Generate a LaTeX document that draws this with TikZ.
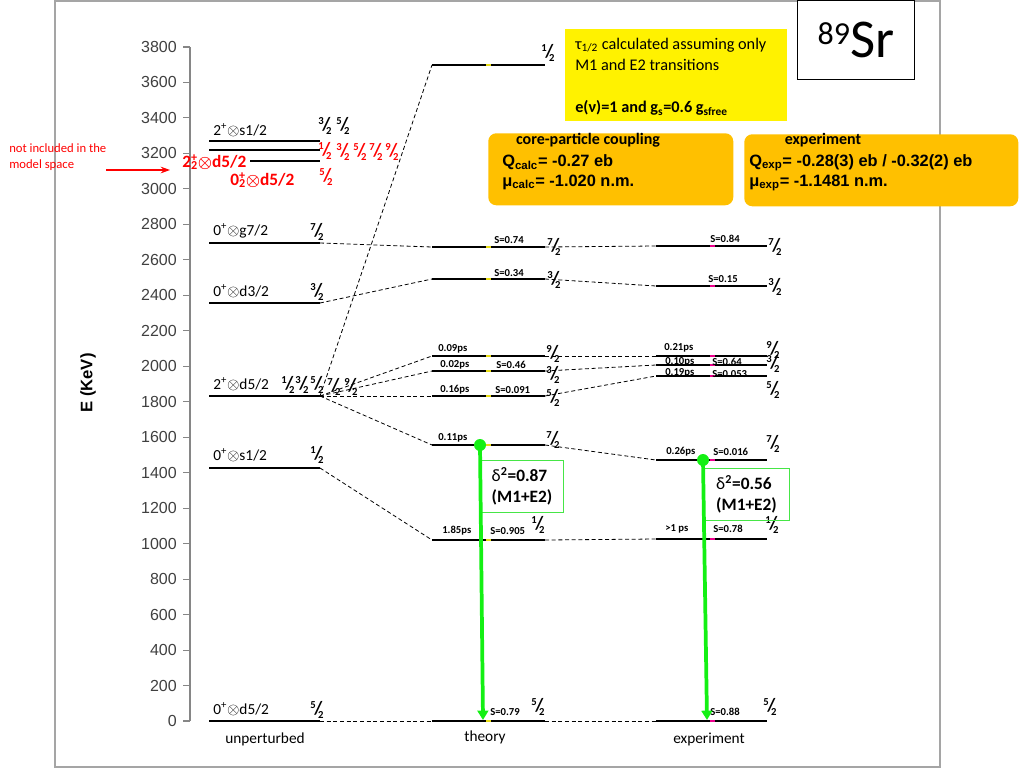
\documentclass[tikz,border=0pt]{standalone}
\usepackage{fontspec}
\setmainfont{Carlito}
\newfontfamily\arialfont{Liberation Sans}
\usetikzlibrary{arrows.meta}

\definecolor{coreorange}{RGB}{255,192,0}
\definecolor{notegreen}{RGB}{70,230,70}
\definecolor{arrowgreen}{RGB}{20,240,20}
\definecolor{framegray}{RGB}{165,165,165}
\definecolor{axisgray}{RGB}{134,134,134}
\definecolor{ticktext}{RGB}{64,64,64}

\newcommand{\jfrac}[2]{{\bfseries\raisebox{4.5pt}{\fontsize{8}{8}\selectfont#1}\kern-1pt{\fontsize{14}{14}\selectfont/}\kern-3.2pt\raisebox{-3pt}{\fontsize{8}{8}\selectfont#2}}}
\newcommand{\coupl}[2]{#1\textsuperscript{+}$\otimes$#2}

\begin{document}
\begin{tikzpicture}[x=0.75pt,y=-0.75pt]

    \tikzset{
      lvl/.style={line width=1.6pt, black},
      conn/.style={line width=0.6pt, dash pattern=on 3pt off 2pt},
      spin/.style={inner sep=0pt, font=\fontsize{11}{11}\selectfont},
      redspin/.style={spin, red},
      tlab/.style={inner sep=0pt, anchor=west, font=\bfseries\fontsize{8}{9}\selectfont},
      state/.style={inner sep=0pt, anchor=west, font=\fontsize{11.5}{13}\selectfont},
      notetext/.style={inner sep=0pt, anchor=west, font=\fontsize{12.2}{14}\selectfont},
      redstate/.style={inner sep=0pt, anchor=west, red, font=\bfseries\boldmath\fontsize{13}{15}\selectfont},
      axis/.style={axisgray, line width=0.8pt},
      ticklbl/.style={inner sep=0pt, anchor=east, ticktext, font=\arialfont\fontsize{12}{12}\selectfont},
      tmark/.style={yellow!90!black, line width=1.2pt},
      xmark/.style={magenta, line width=1.2pt},
      gdot/.style={circle, fill=arrowgreen, inner sep=0pt, minimum size=9pt},
      garrow/.style={arrowgreen, line width=2.8pt, -{Triangle[width=8pt,length=7pt]}},
      gbox/.style={draw=notegreen, line width=0.8pt, anchor=north west, align=left, font=\bfseries\fontsize{13}{16}\selectfont},
      obox/.style={fill=coreorange, rounded corners=6pt, anchor=north west, inner sep=0pt},
      otext/.style={inner sep=0pt, anchor=west, font=\arialfont\bfseries\fontsize{12.3}{14}\selectfont},
      colname/.style={inner sep=0pt, font=\fontsize{11.5}{13}\selectfont},
    }
    \useasboundingbox (0,0) rectangle (1024,768);
    \draw[framegray, line width=1.5pt] (55,1) rectangle (940,767);

    % energy axis
    \draw[axis] (190,47) -- (190,721);
    \foreach \k in {0,...,19}{
      \pgfmathsetmacro\yy{721-35.474*\k}
      \pgfmathtruncatemacro\ee{200*\k}
      \draw[axis] (183,\yy) -- (190,\yy);
      \node[ticklbl] (tick\k) at (177,\yy) {\ee};
    }
    \node[rotate=90, font=\arialfont\bfseries\fontsize{12.5}{14}\selectfont] (eaxis) at (88,383) {E (KeV)};

    % unperturbed
    \draw[lvl] (209,721) coordinate (ual) -- (320,721) coordinate (uar);
    \draw[lvl] (209,468) coordinate (ubl) -- (320,468) coordinate (ubr);
    \draw[lvl] (209,396) coordinate (ucl) -- (320,396) coordinate (ucr);
    \draw[lvl] (209,303) coordinate (udl) -- (320,303) coordinate (udr);
    \draw[lvl] (209,243) coordinate (uel) -- (320,243) coordinate (uer);
    \draw[lvl] (209,141) coordinate (ufl) -- (320,141) coordinate (ufr);
    \draw[lvl] (209,150) coordinate (ugl) -- (320,150) coordinate (ugr);
    \draw[lvl] (250,161) coordinate (uhl) -- (320,161) coordinate (uhr);

    % theory
    \draw[lvl] (432,721) coordinate (tal) -- (545,721) coordinate (tar);
    \draw[lvl] (432,540) coordinate (tbl) -- (545,540) coordinate (tbr);
    \draw[lvl] (432,445) coordinate (tcl) -- (545,445) coordinate (tcr);
    \draw[lvl] (432,396) coordinate (tdl) -- (545,396) coordinate (tdr);
    \draw[lvl] (432,371) coordinate (tel) -- (545,371) coordinate (ter);
    \draw[lvl] (432,356) coordinate (tfl) -- (545,356) coordinate (tfr);
    \draw[lvl] (432,279) coordinate (tgl) -- (545,279) coordinate (tgr);
    \draw[lvl] (432,247) coordinate (thl) -- (545,247) coordinate (thr);
    \draw[lvl] (432,65) coordinate (til) -- (545,65) coordinate (tir);

    % experiment
    \draw[lvl] (656,721) coordinate (xal) -- (767,721) coordinate (xar);
    \draw[lvl] (656,539) coordinate (xbl) -- (767,539) coordinate (xbr);
    \draw[lvl] (656,460) coordinate (xcl) -- (767,460) coordinate (xcr);
    \draw[lvl] (656,376) coordinate (xdl) -- (767,376) coordinate (xdr);
    \draw[lvl] (656,365) coordinate (xel) -- (767,365) coordinate (xer);
    \draw[lvl] (656,356) coordinate (xfl) -- (767,356) coordinate (xfr);
    \draw[lvl] (656,286) coordinate (xgl) -- (767,286) coordinate (xgr);
    \draw[lvl] (656,246) coordinate (xhl) -- (767,246) coordinate (xhr);

    \foreach \yy in {65,247,279,356,371,396,445,540,721} \draw[tmark] (486,\yy) -- (491,\yy);
    \foreach \yy in {246,286,356,365,376,460,539,721} \draw[xmark] (710,\yy) -- (715,\yy);

    % dashed links
    \draw[conn] (uar) -- (tal);
    \draw[conn] (ubr) -- (tbl);
    \draw[conn] (ucr) -- (tcl);
    \draw[conn] (ucr) -- (tdl);
    \draw[conn] (ucr) -- (tel);
    \draw[conn] (ucr) -- (tfl);
    \draw[conn] (ucr) -- (til);
    \draw[conn] (udr) -- (tgl);
    \draw[conn] (uer) -- (thl);
    \draw[conn] (tar) -- (xal);
    \draw[conn] (tbr) -- (xbl);
    \draw[conn] (tcr) -- (xcl);
    \draw[conn] (tdr) -- (xdl);
    \draw[conn] (ter) -- (xel);
    \draw[conn] (tfr) -- (xfl);
    \draw[conn] (tgr) -- (xgl);
    \draw[conn] (thr) -- (xhl);

    % configurations
    \node[state] (sa) at (213,709) {\coupl{0}{d5/2}};
    \node[state] (sb) at (213,455) {\coupl{0}{s1/2}};
    \node[state] (sc) at (213,384) {\coupl{2}{d5/2}};
    \node[state] (sd) at (213,291) {\coupl{0}{d3/2}};
    \node[state] (se) at (213,231) {\coupl{0}{g7/2}};
    \node[state] (sf) at (213,130) {\coupl{2}{s1/2}};
    \node[redstate] (r2lbl) at (182,162) {2\rlap{\textsubscript{2}}\textsuperscript{+}$\otimes$d5/2};
    \node[redstate] (r0lbl) at (230,180) {0\rlap{\textsubscript{2}}\textsuperscript{+}$\otimes$d5/2};
    \node[inner sep=0pt, anchor=north west, align=left, red, font=\fontsize{9.5}{12}\selectfont] (notincl) at (9,143) {not included in the\\model space};
    \coordinate (arrstart) at (106,170);
    \draw[red, line width=0.8pt, -{Stealth[length=7pt,width=5pt]}, shorten >=9pt] (arrstart) -- (arrstart -| r2lbl.west);

    % spins
    \node[spin] (jua) at (317,710) {\jfrac52};
    \node[spin] (jub) at (317,455) {\jfrac12};
    \node[spin] (juc1) at (288,385) {\jfrac12};
    \node[spin] (juc3) at (302,385) {\jfrac32};
    \node[spin] (juc5) at (317,385) {\jfrac52};
    \node[spin] (juc7) at (334,387) {\jfrac72};
    \node[spin] (juc9) at (351,387) {\jfrac92};
    \node[spin] (jud) at (317,292) {\jfrac32};
    \node[spin] (jue) at (317,232) {\jfrac72};
    \node[spin] (juf3) at (325,126) {\jfrac32};
    \node[spin] (juf5) at (343,126) {\jfrac52};
    \node[redspin] (jug1) at (325,151) {\jfrac12};
    \node[redspin] (jug3) at (343,152) {\jfrac32};
    \node[redspin] (jug5) at (360,152) {\jfrac52};
    \node[redspin] (jug7) at (376,152) {\jfrac72};
    \node[redspin] (jug9) at (392,152) {\jfrac92};
    \node[redspin] (juh) at (326,177) {\jfrac52};

    \node[spin] (jti) at (548,53) {\jfrac12};
    \node[spin] (jth) at (554,247) {\jfrac72};
    \node[spin] (jtg) at (554,280) {\jfrac32};
    \node[spin] (jtf) at (553,354) {\jfrac92};
    \node[spin] (jte) at (553,375) {\jfrac32};
    \node[spin] (jtd) at (553,398) {\jfrac52};
    \node[spin] (jtc) at (553,440) {\jfrac72};
    \node[spin] (jtb) at (538,525) {\jfrac12};
    \node[spin] (jta) at (538,707) {\jfrac52};

    \node[spin] (jxh) at (775,247) {\jfrac72};
    \node[spin] (jxg) at (775,287) {\jfrac32};
    \node[spin] (jxf) at (773,350) {\jfrac92};
    \node[spin] (jxe) at (773,364) {\jfrac32};
    \node[spin] (jxd) at (773,390) {\jfrac52};
    \node[spin] (jxc) at (773,444) {\jfrac72};
    \node[spin] (jxb) at (772,525) {\jfrac12};
    \node[spin] (jxa) at (770,707) {\jfrac52};

    % lifetimes and S
    \node[tlab] (ptb) at (442,531) {1.85ps};
    \node[tlab] (ptc) at (438,438) {0.11ps};
    \node[tlab] (ptd) at (440,390) {0.16ps};
    \node[tlab] (pte) at (440,365) {0.02ps};
    \node[tlab] (ptf) at (438,349) {0.09ps};
    \node[tlab] (sta) at (490,712) {S=0.79};
    \node[tlab] (stb) at (490,531) {S=0.905};
    \node[tlab] (std) at (495,390) {S=0.091};
    \node[tlab] (ste) at (496,365) {S=0.46};
    \node[tlab] (stg) at (494,273) {S=0.34};
    \node[tlab] (sth) at (494,240) {S=0.74};
    \node[tlab] (pxb) at (665,529) {>1 ps};
    \node[tlab] (pxc) at (666,452) {0.26ps};
    \node[tlab] (pxd) at (665,373) {0.19ps};
    \node[tlab] (pxe) at (665,362) {0.10ps};
    \node[tlab] (pxf) at (664,348) {0.21ps};
    \node[tlab] (sxa) at (710,712) {S=0.88};
    \node[tlab] (sxb) at (713,529) {S=0.78};
    \node[tlab] (sxc) at (713,452) {S=0.016};
    \node[tlab] (sxd) at (712,374) {S=0.053};
    \node[tlab] (sxe) at (712,362) {S=0.64};
    \node[tlab] (sxg) at (708,279) {S=0.15};
    \node[tlab] (sxh) at (710,239) {S=0.84};

    \node[colname] (ucol) at (265,739) {unperturbed};
    \node[colname] (tcol) at (485,737) {theory};
    \node[colname] (xcol) at (709,739) {experiment};

    % E2/M1 transitions
    \node[gbox, minimum width=62.25pt, minimum height=39pt] (tdelta) at (480,460) {{\mdseries δ}\textsuperscript{2}=0.87\\(M1+E2)};
    \node[gbox, minimum width=64.5pt, minimum height=39pt] (xdelta) at (703,468) {{\mdseries δ}\textsuperscript{2}=0.56\\(M1+E2)};
    \node[gdot] (tdot) at (480,445) {};
    \coordinate (tend) at (483,720);
    \draw[garrow] (tdot.center) -- (tend);
    \node[gdot] (xdot) at (703,460) {};
    \coordinate (xend) at (707,720);
    \draw[garrow] (xdot.center) -- (xend);

    % boxes
    \node[fill=yellow, minimum width=166.5pt, minimum height=69pt, anchor=north west, inner sep=0pt] (notebox) at (565,29) {};
    \node[notetext] (note1) at (575,45) {τ\textsubscript{1/2} calculated assuming only};
    \node[notetext] (note2) at (575,65) {M1 and E2 transitions};
    \node[notetext, font=\bfseries\fontsize{12.2}{14}\selectfont] (note3) at (575,108) {e(ν)=1 and g\textsubscript{s}=0.6 g\textsubscript{sfree}};

    \node[draw, fill=white, line width=0.8pt, minimum width=87.75pt, minimum height=59.25pt, anchor=north west, inner sep=0pt] (srbox) at (797,0) {\fontsize{41}{41}\selectfont\raisebox{10pt}{\fontsize{24}{24}\selectfont 89}Sr};

    \node[obox, minimum width=183.75pt, minimum height=54pt] (calcbox) at (488,133) {};
    \node[inner sep=0pt, font=\bfseries\fontsize{12}{14}\selectfont] (calchead) at (588,140) {core-particle coupling};
    \node[otext] (qcalc) at (502,162) {Q\textsubscript{calc}= -0.27 eb};
    \node[otext] (mucalc) at (502,182) {μ\textsubscript{calc}= -1.020 n.m.};
    \node[obox, minimum width=205.5pt, minimum height=54pt] (expbox) at (744,134) {};
    \node[inner sep=0pt, font=\bfseries\fontsize{12}{14}\selectfont] (exphead) at (823,140) {experiment};
    \node[otext] (qexp) at (749,163) {Q\textsubscript{exp}= -0.28(3) eb / -0.32(2) eb};
    \node[otext] (muexp) at (749,183) {μ\textsubscript{exp}= -1.1481 n.m.};

\end{tikzpicture}
\end{document}
